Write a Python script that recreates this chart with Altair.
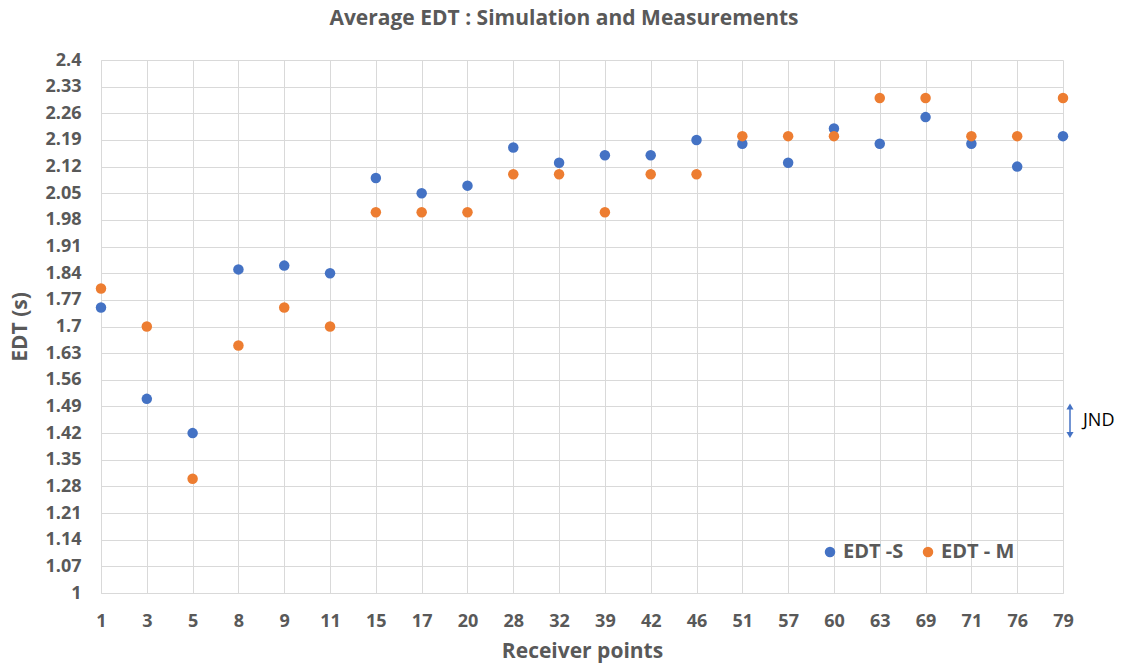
import altair as alt
import pandas as pd

# Receiver positions (category axis)
receivers = ["1", "3", "5", "8", "9", "11", "15", "17", "20", "28", "32",
             "39", "42", "46", "51", "57", "60", "63", "69", "71", "76", "79"]

# Early decay time per receiver, seconds
edt_sim = [1.75, 1.51, 1.42, 1.85, 1.86, 1.84, 2.09, 2.05, 2.07, 2.17, 2.13,
           2.15, 2.15, 2.19, 2.18, 2.13, 2.22, 2.18, 2.25, 2.18, 2.12, 2.20]
edt_meas = [1.80, 1.70, 1.30, 1.65, 1.75, 1.70, 2.00, 2.00, 2.00, 2.10, 2.10,
            2.00, 2.10, 2.10, 2.20, 2.20, 2.20, 2.30, 2.30, 2.20, 2.20, 2.30]

series_names = ["EDT -S", "EDT - M"]
series_colors = ["#4472C4", "#ED7D31"]

y_ticks = [1, 1.07, 1.14, 1.21, 1.28, 1.35, 1.42, 1.49, 1.56, 1.63, 1.7,
           1.77, 1.84, 1.91, 1.98, 2.05, 2.12, 2.19, 2.26, 2.33, 2.4]

# Just-noticeable-difference bracket (seconds)
jnd_low, jnd_high = 1.415, 1.49

FONT = "Open Sans"
GREY = "#595959"
GRID = "#D9D9D9"

rows = []
for r, s, m in zip(receivers, edt_sim, edt_meas):
    rows.append({"receiver": r, "edt": s, "series": series_names[0]})
    rows.append({"receiver": r, "edt": m, "series": series_names[1]})
df = pd.DataFrame(rows)

y_scale = alt.Scale(domain=[1, 2.4], nice=False, zero=False)

x_enc = alt.X(
    "receiver:O",
    sort=receivers,
    scale=alt.Scale(type="point", padding=0),
    axis=alt.Axis(
        title="Receiver points", labelAngle=0, ticks=False, grid=True,
        gridColor=GRID, domainColor=GRID, labelPadding=19,
        titlePadding=10, labelOverlap=False,
    ),
)
y_enc = alt.Y(
    "edt:Q",
    scale=y_scale,
    axis=alt.Axis(
        title="EDT (s)", values=y_ticks, tickCount=len(y_ticks) + 5,
        format=".3~f", ticks=False, gridColor=GRID, domainColor=GRID,
        labelPadding=20, titlePadding=14, labelOverlap=False,
    ),
)

points = alt.Chart(df).mark_circle(size=110, opacity=1).encode(
    x=x_enc,
    y=y_enc,
    color=alt.Color(
        "series:N",
        scale=alt.Scale(domain=series_names, range=series_colors),
        legend=alt.Legend(
            title=None, orient="none", legendX=719, legendY=482,
            direction="horizontal", symbolType="circle", symbolSize=110,
            labelFontSize=20, labelFont=FONT, labelFontWeight="bold",
            labelColor=GREY, columnPadding=14, labelOffset=3,
            symbolOpacity=1,
        ),
    ),
)

jnd_df = pd.DataFrame({"lo": [jnd_low], "hi": [jnd_high]})
jnd_line = alt.Chart(jnd_df).mark_rule(color="#4472C4", strokeWidth=1.5).encode(
    x=alt.value(969), y=alt.Y("lo:Q", scale=y_scale), y2="hi:Q",
)
jnd_top = alt.Chart(jnd_df).mark_point(
    shape="triangle-up", filled=True, size=50, color="#4472C4", opacity=1
).encode(x=alt.value(969), y=alt.Y("hi:Q"))
jnd_bot = alt.Chart(jnd_df).mark_point(
    shape="triangle-down", filled=True, size=50, color="#4472C4", opacity=1
).encode(x=alt.value(969), y=alt.Y("lo:Q"))
jnd_text = alt.Chart(jnd_df).transform_calculate(
    mid="(datum.lo + datum.hi) / 2", label="'JND'"
).mark_text(
    align="left", baseline="middle", font=FONT, fontSize=18, color="#000000", dx=13
).encode(x=alt.value(969), y=alt.Y("mid:Q"), text="label:N")

chart = alt.layer(points, jnd_line, jnd_top, jnd_bot, jnd_text).properties(
    width=962,
    height=533,
    title=alt.TitleParams(
        "Average EDT : Simulation and Measurements",
        font=FONT, fontSize=21, fontWeight="bold", color=GREY,
        anchor="middle", offset=22, dx=-18,
    ),
    autosize=alt.AutoSizeParams(type="none"),
    padding={"left": 101, "top": 60, "right": 61, "bottom": 79},
).configure_axis(
    labelFont=FONT, labelFontSize=18, labelFontWeight="bold", labelColor=GREY,
    titleFont=FONT, titleFontSize=21, titleFontWeight="bold", titleColor=GREY,
).configure_view(stroke=None)

chart.save("out.html", embed_options={"renderer": "svg", "actions": False})
